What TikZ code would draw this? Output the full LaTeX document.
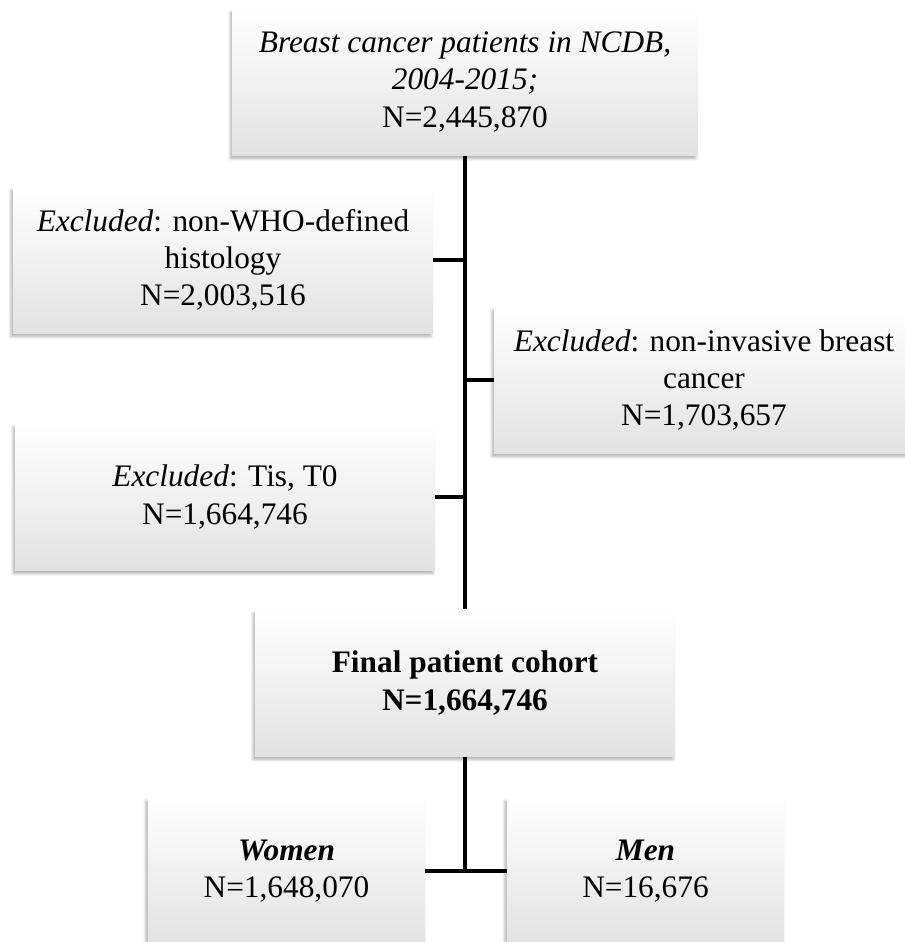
\documentclass[tikz,border=0pt]{standalone}
\usepackage{fontspec}
\setmainfont{Liberation Serif}
\usepackage{tikz}
\usetikzlibrary{positioning, shadows, shadows.blur}
\definecolor{boxgray}{RGB}{226,226,226}

\begin{document}
\begin{tikzpicture}[x=0.75pt, y=-0.75pt,
        flowbox/.style={inner sep=0pt, align=center, top color=white, middle color=white,
            bottom color=boxgray, blur shadow={shadow xshift=-1.5pt, shadow yshift=-2.5pt,
            shadow blur radius=2pt, shadow opacity=30},
            minimum width=315pt, minimum height=110pt,
            font=\fontsize{23.5}{28}\selectfont},
        link/.style={line width=2.5pt}]
        \useasboundingbox (0,0) rectangle (904,942);
        %\draw (0,0) grid[step=100] (904,942);
        \node[flowbox, minimum width=349pt] (title) at (465,82)
            {\textit{Breast cancer patients in NCDB,}\\ \textit{2004-2015;}\\ N=2,445,870};
        \node[flowbox] (who) at (223,260)
            {\textit{Excluded}: non-WHO-defined\\ histology\\ N=2,003,516};
        \node[flowbox] (noninv) at (704,380)
            {\textit{Excluded}: non-invasive breast\\ cancer\\ N=1,703,657};
        \node[flowbox] (tis) at (225,497)
            {\textit{Excluded}: Tis, T0\\ N=1,664,746};
        \node[flowbox] (final) at (465,683)
            {\textbf{Final patient cohort}\\ \textbf{N=1,664,746}};
        \node[flowbox, minimum width=208pt] (women) at (286.5,871)
            {\textbf{\textit{Women}}\\ N=1,648,070};
        \node[flowbox, minimum width=208pt] (men) at (645.5,871)
            {\textbf{\textit{Men}}\\ N=16,676};

        \draw[link] (title.south) -- (final.north);
        \draw[link] (who.east) -- (who.east -| title.south);
        \draw[link] (noninv.west) -- (noninv.west -| title.south);
        \draw[link] (tis.east) -- (tis.east -| title.south);
        \draw[link] (final.south) -- (final.south |- women.east);
        \draw[link] (women.east) -- (men.west);
\end{tikzpicture}
\end{document}
